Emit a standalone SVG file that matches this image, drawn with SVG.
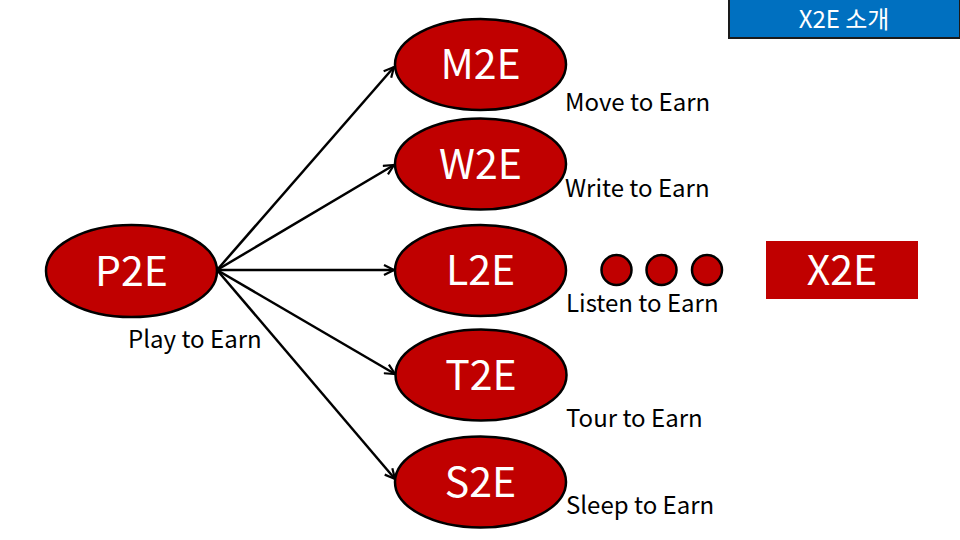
<svg xmlns="http://www.w3.org/2000/svg" width="960" height="540" viewBox="0 0 960 540">
<defs>
<style>
.node{fill:#C00000;stroke:#000;stroke-width:2.5}
.nt{font-family:"Noto Sans CJK KR","Noto Sans",sans-serif;font-size:41px;fill:#fff;text-anchor:middle}
.lbl{font-family:"Noto Sans CJK KR","Noto Sans",sans-serif;font-size:24px;fill:#000}
.edge{stroke:#000;stroke-width:2.5;fill:none;marker-end:url(#arr)}
</style>
<marker id="arr" viewBox="0 0 12 12" refX="11" refY="6" markerWidth="12" markerHeight="12" markerUnits="userSpaceOnUse" orient="auto">
<path d="M1,1 L11,6 L1,11" fill="none" stroke="#000" stroke-width="2.2"/>
</marker>
</defs>
<rect width="960" height="540" fill="#fff"/>
<g id="header">
<rect x="729" y="-2" width="231" height="40" fill="#0070C0" stroke="#1a1a1a" stroke-width="2"/>
<text x="844" y="28" font-family="'Noto Sans CJK KR','Noto Sans',sans-serif" font-size="24" fill="#fff" text-anchor="middle">X2E 소개</text>
</g>
<g id="connectors">
<line class="edge" x1="217" y1="270" x2="394" y2="67"/>
<line class="edge" x1="217" y1="270" x2="394" y2="165"/>
<line class="edge" x1="217" y1="270" x2="394" y2="270"/>
<line class="edge" x1="217" y1="270" x2="395" y2="374"/>
<line class="edge" x1="217" y1="270" x2="395" y2="479"/>
</g>
<g id="p2e">
<ellipse class="node" cx="131.5" cy="271" rx="85.5" ry="46"/>
<text class="nt" x="131.5" y="285.5">P2E</text>
<text class="lbl" x="128" y="348">Play to Earn</text>
</g>
<g id="m2e">
<ellipse class="node" cx="480.5" cy="64.5" rx="85.5" ry="45.5"/>
<text class="nt" x="480.5" y="79">M2E</text>
<text class="lbl" x="565" y="111">Move to Earn</text>
</g>
<g id="w2e">
<ellipse class="node" cx="480.5" cy="164" rx="85.5" ry="45.5"/>
<text class="nt" x="480.5" y="178.5">W2E</text>
<text class="lbl" x="565" y="197">Write to Earn</text>
</g>
<g id="l2e">
<ellipse class="node" cx="480.5" cy="270.5" rx="85.5" ry="45.5"/>
<text class="nt" x="480.5" y="285">L2E</text>
<text class="lbl" x="566" y="312">Listen to Earn</text>
</g>
<g id="t2e">
<ellipse class="node" cx="481" cy="375" rx="85.5" ry="45.5"/>
<text class="nt" x="481" y="389.5">T2E</text>
<text class="lbl" x="566" y="427">Tour to Earn</text>
</g>
<g id="s2e">
<ellipse class="node" cx="480.5" cy="482" rx="85.5" ry="45.5"/>
<text class="nt" x="480.5" y="496.5">S2E</text>
<text class="lbl" x="566" y="514">Sleep to Earn</text>
</g>
<g id="dots">
<circle class="node" cx="616.5" cy="270" r="15"/>
<circle class="node" cx="661.5" cy="270" r="15"/>
<circle class="node" cx="707" cy="270" r="15"/>
</g>
<g id="x2e">
<rect x="766" y="241" width="152" height="58" fill="#C00000"/>
<text class="nt" x="842" y="284.5">X2E</text>
</g>
</svg>
